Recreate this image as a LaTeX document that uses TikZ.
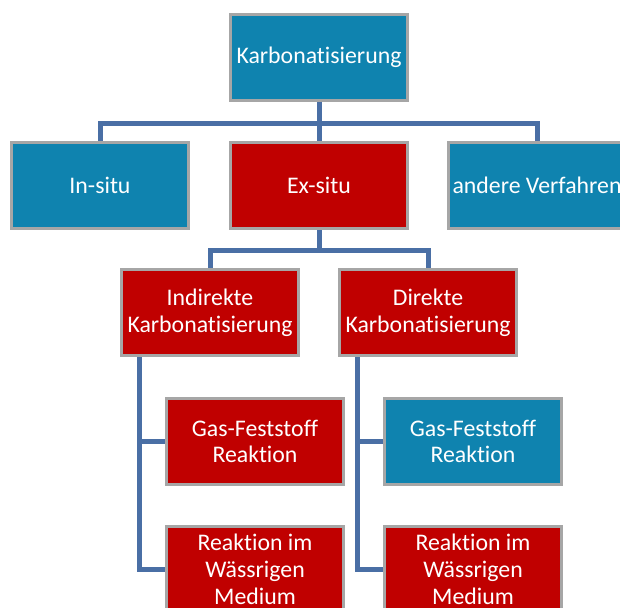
\documentclass[tikz,border=0pt]{standalone}
\usepackage{fontspec}
\setmainfont{Carlito}[Ligatures={NoCommon}]
\definecolor{kblue}{HTML}{0F83AF}
\definecolor{kred}{HTML}{C00000}
\definecolor{kline}{HTML}{4A6FA5}
\tikzset{box/.style={draw=gray!70,line width=3pt,minimum width=177pt,minimum height=86pt,
  align=center,text=white,font=\fontsize{23.8}{26.8}\selectfont},
  bluebox/.style={box,fill=kblue},
  redbox/.style={box,fill=kred},
  link/.style={draw=kline,line width=5pt}}
\begin{document}
\begin{tikzpicture}[x=1pt,y=1pt]
\useasboundingbox (0,0) rectangle (620,-607);

\node[bluebox] (karb) at (319,-57.5) {Karbonatisierung};
\node[bluebox] (insitu) at (100,-185.5) {In-situ};
\node[redbox] (exsitu) at (319,-185.5) {Ex-situ};
\node[bluebox] (andere) at (537,-185.5) {andere Verfahren};

\node[redbox] (indir) at (210,-312.5) {Indirekte\\Karbonatisierung};
\node[redbox] (dir) at (428,-312.5) {Direkte\\Karbonatisierung};

\node[redbox] (gasL) at (255,-441.5) {Gas-Feststoff\\Reaktion};
\node[redbox] (wasL) at (255,-569.5) {Reaktion im\\Wässrigen\\Medium};
\node[bluebox] (gasR) at (473,-441.5) {Gas-Feststoff\\Reaktion};
\node[redbox] (wasR) at (473,-569.5) {Reaktion im\\Wässrigen\\Medium};

\draw[link] (karb.south) -- ++(0,-21) -| (insitu.north);
\draw[link] (karb.south) -- (exsitu.north);
\draw[link] (karb.south) -- ++(0,-21) -| (andere.north);

\draw[link] (exsitu.south) -- ++(0,-20) -| (indir.north);
\draw[link] (exsitu.south) -- ++(0,-20) -| (dir.north);

\draw[link] (indir.south west) ++(19,0) |- (gasL.west);
\draw[link] (indir.south west) ++(19,0) |- (wasL.west);
\draw[link] (dir.south west) ++(19,0) |- (gasR.west);
\draw[link] (dir.south west) ++(19,0) |- (wasR.west);
\end{tikzpicture}
\end{document}
